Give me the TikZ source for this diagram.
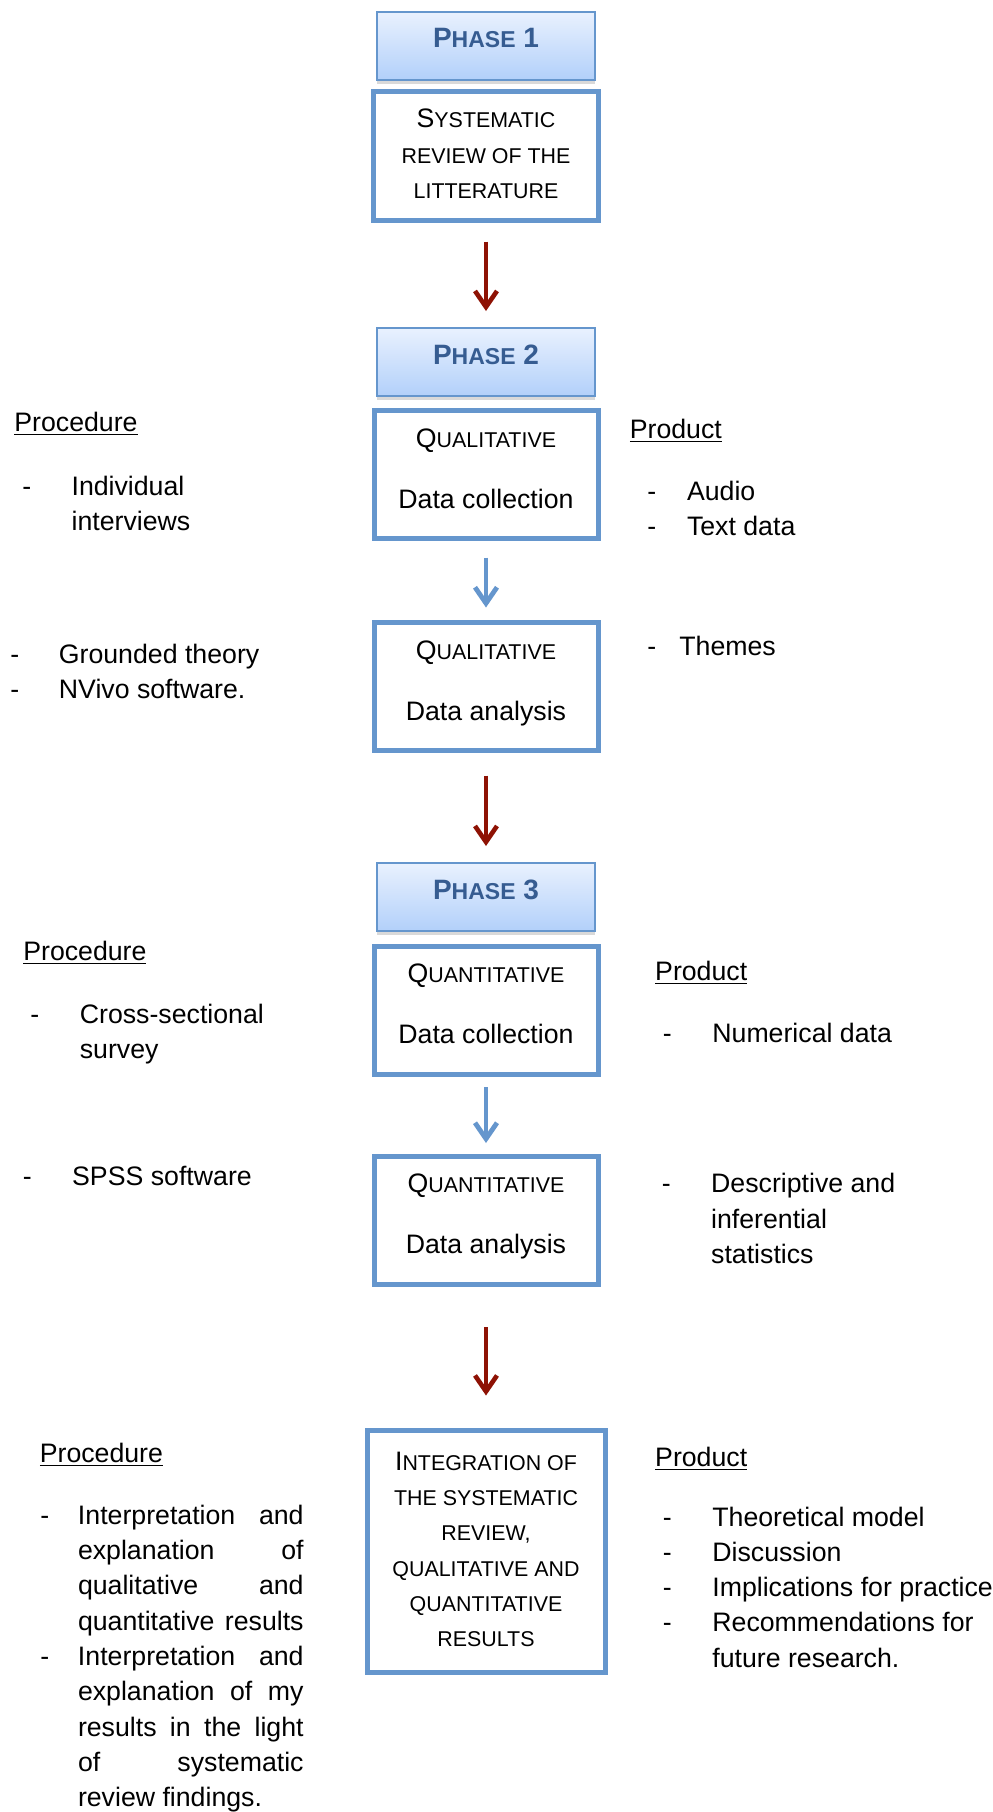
\documentclass[tikz,border=0pt]{standalone}
\usepackage{fontspec}
\setmainfont{Liberation Sans}
\usetikzlibrary{arrows.meta,shadows}
\definecolor{boxblue}{RGB}{101,150,205}
\definecolor{phaseblue}{RGB}{54,92,145}
\definecolor{phasetop}{RGB}{233,241,254}
\definecolor{phasebot}{RGB}{178,208,250}
\definecolor{darkred}{RGB}{142,18,4}
\newcommand{\smc}[1]{{\fontsize{10.7}{17.65}\selectfont #1}}
\newcommand{\phsmc}[1]{{\fontsize{11.5}{17.65}\selectfont #1}}
\newcommand{\jline}[1]{\makebox[112.8pt][s]{#1}}
\newcommand{\lift}{\rule[-8.9pt]{0pt}{0pt}}
\tikzset{
  phase/.style={draw=boxblue,line width=1pt,top color=phasetop,bottom color=phasebot,
    minimum width=109pt,minimum height=34pt,inner sep=0pt,text depth=7.4pt,
    font=\fontsize{14}{17}\selectfont\bfseries,text=phaseblue,
    drop shadow={shadow xshift=0pt,shadow yshift=-2pt,opacity=0.3}},
  stage/.style={draw=boxblue,line width=2.5pt,fill=white,
    minimum width=112pt,minimum height=64pt,inner sep=0pt},
  redarrow/.style={draw=darkred,line width=2.3pt,-{Straight Barb[length=8pt,width=11pt]}},
  bluearrow/.style={draw=boxblue,line width=2.4pt,-{Straight Barb[length=8pt,width=11pt]}},
  side/.style={anchor=base west,inner sep=0pt}
}
\begin{document}
\begin{tikzpicture}[x=0.5pt,y=-0.5pt,font=\fontsize{13.35}{17.65}\selectfont]
  \useasboundingbox (0,0) rectangle (992,1812);
  % phase 1
  \node[phase] (ph1) at (486,45.7) {P\phsmc{HASE} 1};
  \node[stage,minimum width=112.5pt,minimum height=64.5pt] (review) at (486,156) {\begin{tabular}{@{}c@{}}
      S\smc{YSTEMATIC}\\
      \smc{REVIEW OF THE}\\
      \smc{LITTERATURE}
    \end{tabular}};
  % phase 2
  \node[phase] (ph2) at (486,362) {P\phsmc{HASE} 2};
  \node[stage] (qualcol) at (486,474.5) {\begin{tabular}{@{}c@{}}Q\smc{UALITATIVE}\\[12.85pt] Data collection\lift\end{tabular}};
  \node[stage] (qualana) at (486,686.5) {\begin{tabular}{@{}c@{}}Q\smc{UALITATIVE}\\[12.85pt] Data analysis\lift\end{tabular}};
  \node[side] (proc2) at (14,431.7) {\underline{Procedure}};
  \node[side] (prod2) at (629.4,438.3) {\underline{Product}};
  \node[side] (interv) at (22,495) {\begin{tabular}[t]{@{}p{24.6pt}@{}l@{}}
      - & Individual\\
        & interviews
    \end{tabular}};
  \node[side] (ground) at (10,663) {\begin{tabular}[t]{@{}p{24.25pt}@{}l@{}}
      - & Grounded theory\\
      - & NVivo software.
    \end{tabular}};
  \node[side] (audio) at (647,500) {\begin{tabular}[t]{@{}p{19.8pt}@{}l@{}}
      - & Audio\\
      - & Text data
    \end{tabular}};
  \node[side] (themes) at (647,655) {\begin{tabular}[t]{@{}p{16pt}@{}l@{}}- & Themes\end{tabular}};
  % phase 3
  \node[phase] (ph3) at (486,897) {P\phsmc{HASE} 3};
  \node[stage] (quancol) at (486,1010) {\begin{tabular}{@{}c@{}}Q\smc{UANTITATIVE}\\[12.85pt] Data collection\lift\end{tabular}};
  \node[stage] (quanana) at (486,1220) {\begin{tabular}{@{}c@{}}Q\smc{UANTITATIVE}\\[12.85pt] Data analysis\lift\end{tabular}};
  \node[side] (proc3) at (22.9,960) {\underline{Procedure}};
  \node[side] (prod3) at (654.8,980) {\underline{Product}};
  \node[side] (survey) at (30,1023.3) {\begin{tabular}[t]{@{}p{24.75pt}@{}l@{}}
      - & Cross-sectional\\
        & survey
    \end{tabular}};
  \node[side] (spss) at (22.5,1185) {\begin{tabular}[t]{@{}p{24.65pt}@{}l@{}}- & SPSS software\end{tabular}};
  \node[side] (numdata) at (662.5,1042.7) {\begin{tabular}[t]{@{}p{24.75pt}@{}l@{}}- & Numerical data\end{tabular}};
  \node[side] (stats) at (661.5,1192.7) {\begin{tabular}[t]{@{}p{24.65pt}@{}l@{}}
      - & Descriptive and\\
        & inferential\\
        & statistics
    \end{tabular}};
  % integration
  \node[stage,minimum width=119pt,minimum height=121pt] (integ) at (486,1551.5) {\begin{tabular}{@{}c@{}}
      I\smc{NTEGRATION OF}\\
      \smc{THE SYSTEMATIC}\\
      \smc{REVIEW,}\\
      \smc{QUALITATIVE AND}\\
      \smc{QUANTITATIVE}\\
      \smc{RESULTS}
    \end{tabular}};
  \node[side] (proc4) at (39.4,1462.7) {\underline{Procedure}};
  \node[side] (prod4) at (654.8,1466) {\underline{Product}};
  \node[side] (interp) at (40,1524.3) {\begin{tabular}[t]{@{}p{18.8pt}@{}l@{}}
      - & \jline{Interpretation and}\\
        & \jline{explanation of}\\
        & \jline{qualitative and}\\
        & \jline{quantitative results}\\
      - & \jline{Interpretation and}\\
        & \jline{explanation of my}\\
        & \jline{results in the light}\\
        & \jline{of systematic}\\
        & review findings.
    \end{tabular}};
  \node[side] (model) at (662.5,1526) {\begin{tabular}[t]{@{}p{24.75pt}@{}l@{}}
      - & Theoretical model\\
      - & Discussion\\
      - & Implications for practice\\
      - & Recommendations for\\
        & future research.
    \end{tabular}};
  % arrows
  \draw[redarrow,shorten <=9.25pt,shorten >=8pt] (review) -- (ph2);
  \draw[bluearrow,shorten <=8.25pt,shorten >=6.25pt] (qualcol) -- (qualana);
  \draw[redarrow,shorten <=11.25pt,shorten >=8pt] (qualana) -- (ph3);
  \draw[bluearrow,shorten <=5.25pt,shorten >=5.25pt] (quancol) -- (quanana);
  \draw[redarrow,shorten <=20.25pt,shorten >=16.25pt] (quanana) -- (integ);
\end{tikzpicture}
\end{document}
